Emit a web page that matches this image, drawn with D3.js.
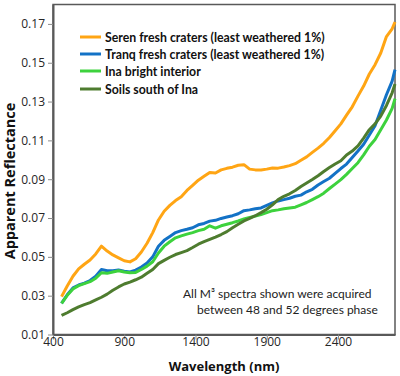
<!DOCTYPE html>
<html>
<head>
<meta charset="utf-8">
<script src="https://cdn.jsdelivr.net/npm/d3@7"></script>
<style>
  html, body { margin: 0; padding: 0; background: #fff; }
  svg { display: block; }
</style>
</head>
<body>
<div id="chart"></div>
<script>
// ---- data ----
const wavelengths = [460,500,540,580,620,660,700,740,780,820,860,900,940,980,1020,1060,1100,1140,1180,1220,1260,1300,1340,1380,1420,1460,1500,1540,1580,1620,1660,1700,1740,1780,1820,1860,1900,1940,1980,2020,2060,2100,2140,2180,2220,2260,2300,2340,2380,2420,2460,2500,2540,2580,2620,2660,2700,2740,2780,2800];

const serenFresh = [.0295,.035,.040,.0438,.0462,.0484,.0515,.0555,.053,.051,.0495,.048,.0474,.049,.0525,.057,.0625,.069,.0735,.0765,.079,.081,.0842,.0868,.0895,.0915,.0935,.0932,.0948,.0956,.0962,.0972,.0975,.0952,.0948,.0947,.0952,.0958,.0957,.0963,.097,.098,.0998,.1015,.1038,.106,.1085,.1115,.115,.1185,.123,.1273,.1328,.138,.1442,.149,.155,.1635,.1675,.171];

const tranqFresh = [.026,.0305,.034,.0355,.0365,.0378,.040,.0435,.0428,.0428,.0432,.0426,.0422,.0432,.0448,.0468,.050,.0555,.0585,.0605,.0625,.0635,.0642,.065,.0665,.0672,.0684,.0688,.0698,.0705,.0712,.0722,.0738,.0742,.0748,.0752,.0765,.0778,.0788,.0795,.0802,.0812,.0818,.0835,.0848,.087,.0888,.0905,.093,.0955,.0978,.1012,.1045,.108,.1128,.1175,.1255,.1335,.1405,.1465];

const inaBright = [.026,.0302,.0335,.0352,.0362,.0372,.039,.0418,.0415,.0422,.0428,.0422,.0418,.042,.0435,.0452,.0475,.052,.0555,.0578,.0598,.0608,.0617,.0625,.0635,.0642,.066,.0648,.066,.0668,.0676,.0685,.0695,.0703,.071,.0718,.0728,.0738,.0742,.0748,.0752,.0756,.0768,.078,.0795,.081,.0828,.0852,.0875,.0898,.0925,.0955,.0985,.1025,.107,.1105,.1155,.1205,.1265,.1315];

const soilsSouth = [.0198,.0212,.0228,.0242,.0254,.0264,.0278,.0292,.0308,.0328,.0345,.036,.037,.0382,.0395,.0415,.0435,.0465,.0482,.0498,.0512,.0522,.0532,.0548,.0565,.0578,.059,.0602,.0615,.063,.065,.0668,.0685,.0698,.0712,.0728,.0745,.0768,.0795,.0812,.0825,.0842,.0862,.088,.0898,.0918,.094,.096,.0978,.0995,.1025,.1045,.1072,.1112,.1155,.1185,.1225,.128,.1345,.139];

const seriesNames = ["Seren fresh craters (least weathered 1%)", "Tranq fresh craters (least weathered  1%)", "Ina bright interior", "Soils south of Ina"];
const seriesColors = ["#FFA514", "#1372C6", "#3DD23D", "#4E7C2F"];
const seriesValues = [serenFresh, tranqFresh, inaBright, soilsSouth];

const xTicks = [400, 900, 1400, 1900, 2400];
const yTicks = [0.01, 0.03, 0.05, 0.07, 0.09, 0.11, 0.13, 0.15, 0.17];
const noteLines = ["All M\u00B3 spectra shown were acquired", "between 48 and 52 degrees phase"];

// ---- chart ----
const W = 400, H = 376;
const svg = d3.select("#chart").append("svg").attr("width", W).attr("height", H);

const x = d3.scaleLinear().domain([400, 2800]).range([53, 395]);
const y = d3.scaleLinear().domain([0.01, 0.18]).range([334.5, 4.5]);

const axisColor = "#595959";
const fontReg = "'Open Sans', 'DejaVu Sans', sans-serif";
const fontCal = "Lato, 'Open Sans', sans-serif";

// frame
svg.append("rect")
  .attr("x", x.range()[0]).attr("y", y.range()[1])
  .attr("width", x.range()[1] - x.range()[0])
  .attr("height", y.range()[0] - y.range()[1])
  .attr("fill", "none").attr("stroke", axisColor).attr("stroke-width", 1.5);

// axes
const xAxis = svg.append("g")
  .attr("transform", `translate(0,${y.range()[0]})`)
  .call(d3.axisBottom(x).tickValues(xTicks).tickSize(5).tickSizeOuter(0).tickFormat(d3.format("d")));
const yAxis = svg.append("g")
  .attr("transform", `translate(${x.range()[0]},0)`)
  .call(d3.axisLeft(y).tickValues(yTicks).tickSize(5).tickSizeOuter(0).tickFormat(d3.format(".2f")));

[xAxis, yAxis].forEach(g => {
  g.select(".domain").attr("stroke", axisColor).attr("stroke-width", 2);
  g.selectAll(".tick line").attr("stroke", "#8c8c8c").attr("stroke-width", 1);
  g.selectAll(".tick text").attr("fill", "#262626")
    .style("font-family", fontReg).style("font-size", "12px");
});
xAxis.selectAll(".tick text").attr("dy", "0.2em").attr("y", 9);
yAxis.selectAll(".tick text").attr("x", -8);

// lines
const line = d3.line()
  .x((d, i) => x(wavelengths[i]))
  .y(d => y(d));

seriesValues.forEach((vals, k) => {
  svg.append("path")
    .datum(vals)
    .attr("d", line)
    .attr("fill", "none")
    .attr("stroke", seriesColors[k])
    .attr("stroke-width", 3)
    .attr("stroke-linejoin", "round")
    .attr("stroke-linecap", "butt");
});

// legend
const legendY = [37, 54, 71, 89];
const lg = svg.append("g");
seriesNames.forEach((name, k) => {
  lg.append("line")
    .attr("x1", 80).attr("x2", 101)
    .attr("y1", legendY[k]).attr("y2", legendY[k])
    .attr("stroke", seriesColors[k]).attr("stroke-width", 3);
  lg.append("text")
    .attr("x", 105).attr("y", legendY[k] + 4.5)
    .attr("fill", "#111")
    .style("font-family", fontCal).style("font-weight", "bold").style("font-size", "12.3px")
    .text(name);
});

// annotation
svg.append("text").attr("x", 183).attr("y", 298)
  .attr("fill", "#222").style("font-family", fontCal).style("font-size", "12px")
  .text(noteLines[0]);
svg.append("text").attr("x", 197).attr("y", 314)
  .attr("fill", "#222").style("font-family", fontCal).style("font-size", "12px")
  .text(noteLines[1]);

// axis titles
svg.append("text")
  .attr("x", 224).attr("y", 371)
  .attr("text-anchor", "middle")
  .attr("fill", "#111")
  .style("font-family", fontReg).style("font-weight", "bold").style("font-size", "13px")
  .text("Wavelength (nm)");
svg.append("text")
  .attr("transform", "translate(15,181) rotate(-90)")
  .attr("text-anchor", "middle")
  .attr("fill", "#111")
  .style("font-family", fontReg).style("font-weight", "bold").style("font-size", "14.5px")
  .text("Apparent Reflectance");
</script>
</body>
</html>
